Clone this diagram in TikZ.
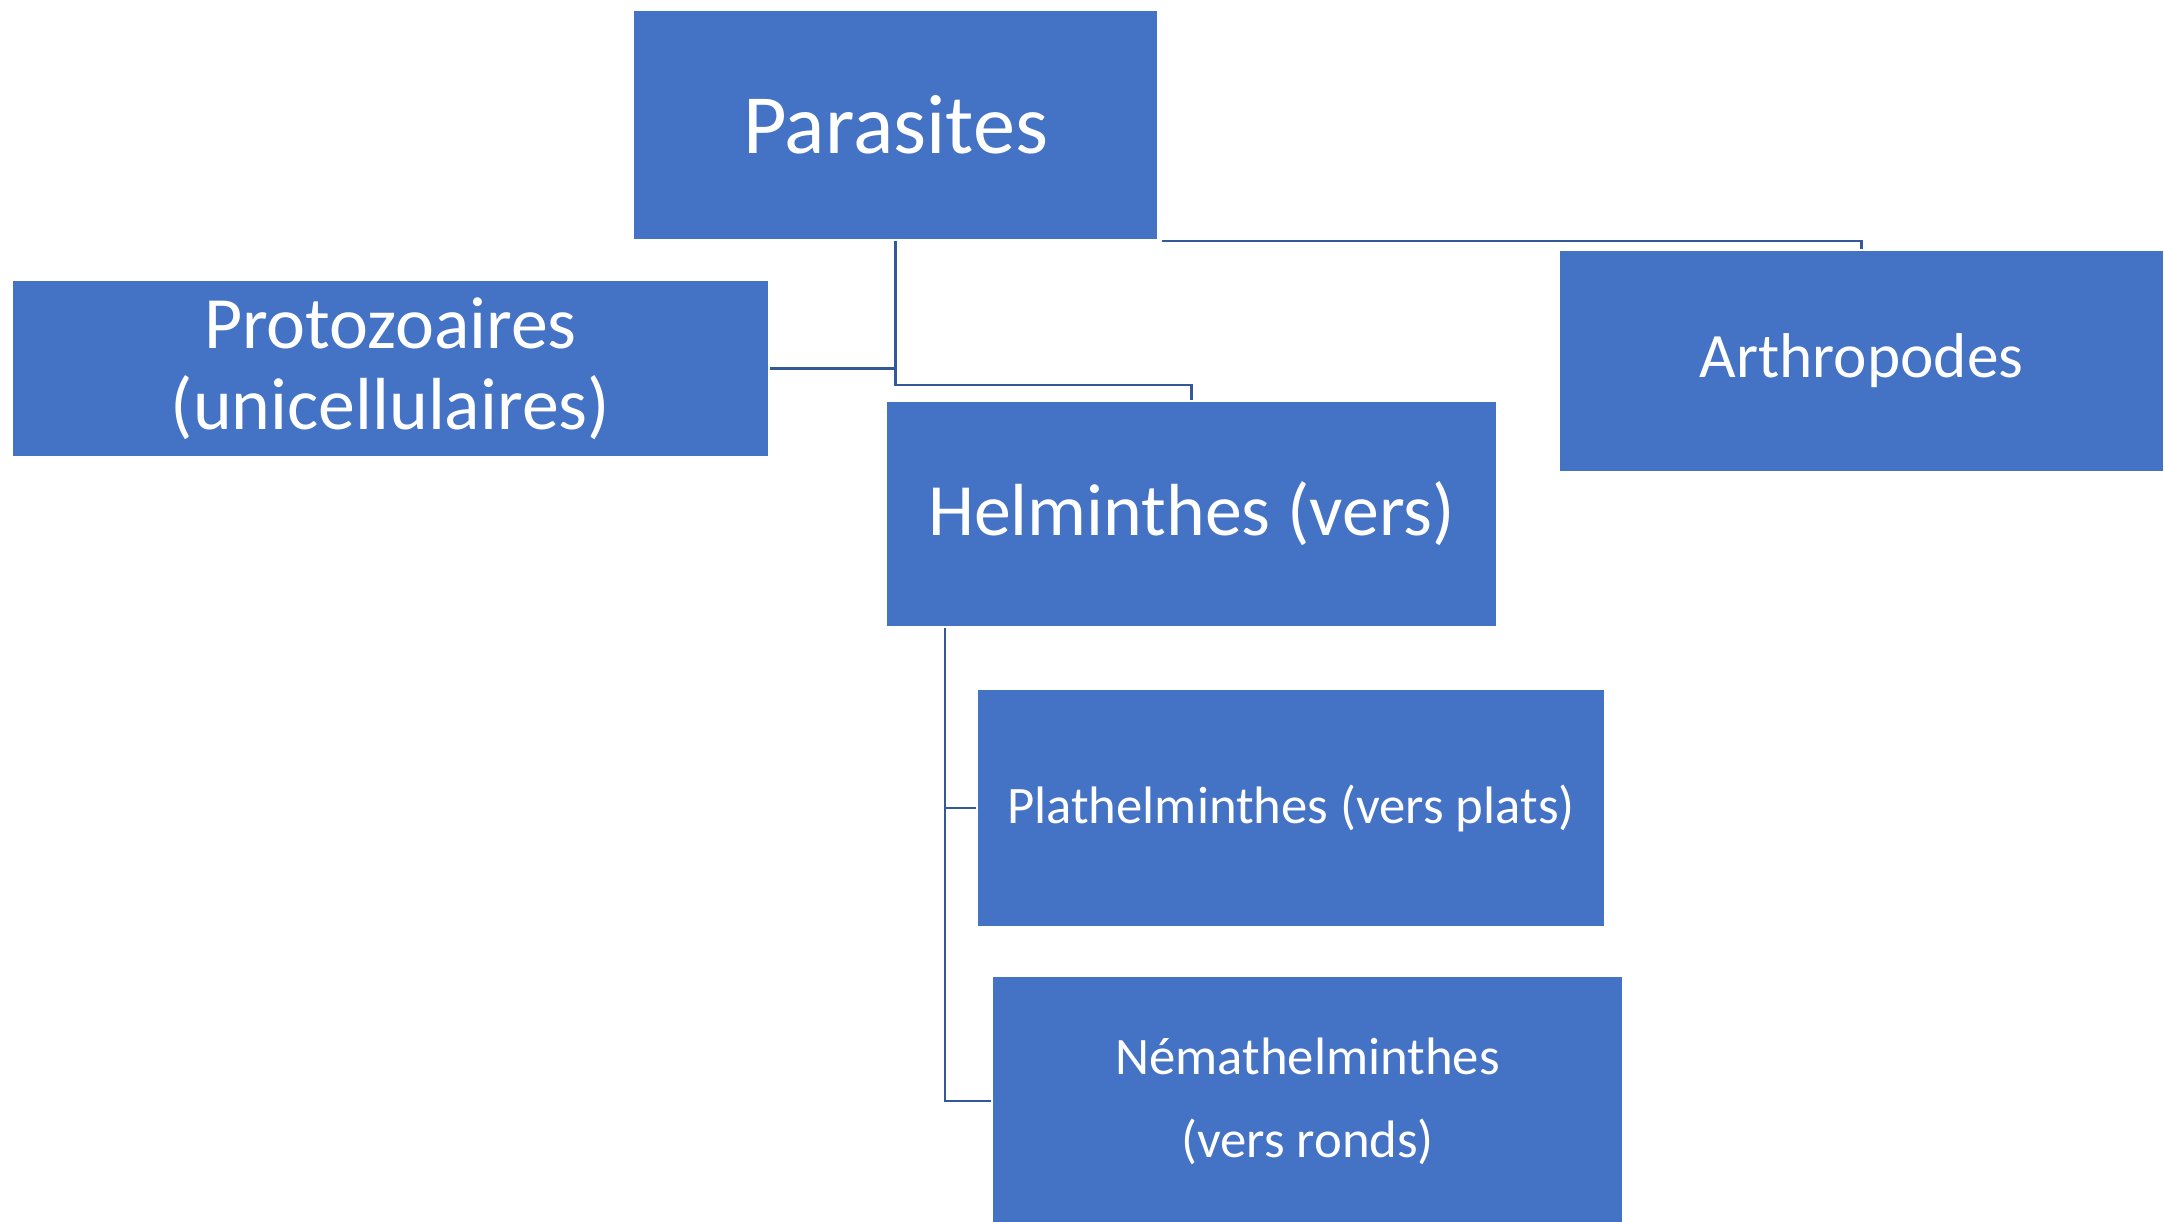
\documentclass[tikz,border=0pt]{standalone}
\usepackage{fontspec}
\setmainfont{Carlito}
\usetikzlibrary{positioning, calc}
\definecolor{boxblue}{HTML}{4472C4}
\definecolor{lineblue}{HTML}{35589A}

\begin{document}
\begin{tikzpicture}[
    box/.style={fill=boxblue, draw=white, line width=0.4pt, text=white, align=center, inner sep=0pt},
    link/.style={draw=lineblue, line width=0.6pt}
]
    \useasboundingbox (0, 0) rectangle (21.64, -12.22);

    % boxes
    \node[box, minimum width=5.25cm, minimum height=2.30cm, font=\fontsize{24}{29}\selectfont] (par) at (8.955, -1.25) {Parasites};
    \node[box, minimum width=7.57cm, minimum height=1.77cm, font=\fontsize{21}{23}\selectfont] (proto) at (3.905, -3.685) {Protozoaires\\(unicellulaires)};
    \node[box, minimum width=6.05cm, minimum height=2.22cm, font=\fontsize{18}{22}\selectfont] (arth) at (18.615, -3.61) {Arthropodes};
    \node[box, minimum width=6.11cm, minimum height=2.26cm, font=\fontsize{21}{25}\selectfont] (helm) at (11.915, -5.14) {Helminthes (vers)};
    \node[box, minimum width=6.28cm, minimum height=2.38cm, font=\fontsize{15}{18}\selectfont] (plath) at (12.91, -8.08) {Plathelminthes (vers plats)};
    \node[box, minimum width=6.31cm, minimum height=2.50cm, font=\fontsize{15}{23.6}\selectfont] (nema) at (13.075, -11.01) {Némathelminthes\\(vers ronds)};

    % connectors
    \coordinate (bus) at (0, -3.85); % junction level under Parasites
    \draw[link] (par.south) -- (par.south |- bus) -| (helm.north);
    \draw[link] (proto.east) -- (proto.east -| par.south);
    \draw[link] ([xshift=0.03cm] par.south east) -| (arth.north);

    \coordinate (trunk) at ([xshift=0.6cm] helm.south west);
    \draw[link] (trunk) |- (nema.west);
    \draw[link] (plath.west) -- (plath.west -| trunk);
\end{tikzpicture}
\end{document}
